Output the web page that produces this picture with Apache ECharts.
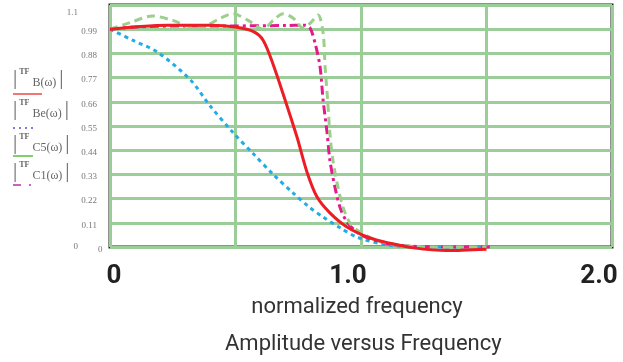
<!DOCTYPE html>
<html>
<head>
<meta charset="utf-8">
<script src="https://cdn.jsdelivr.net/npm/echarts@6/dist/echarts.min.js"></script>
<style>
  html, body { margin: 0; padding: 0; background: #fff; }
  #chart { width: 623px; height: 362px; }
</style>
</head>
<body>
<div id="chart"></div>
<script>
// tick labels
var xTicks = { 0: '0', 1: '1.0', 2: '2.0' }
var yTicks = ['0', '0.11', '0.22', '0.33', '0.44', '0.55', '0.66', '0.77', '0.88', '0.99', '1.1']

// |TF B(w)|  - solid red
var tfB = [[0, 0.99], [0.1, 1.0], [0.23, 1.008], [0.4, 1.008], [0.5, 1.0], [0.57, 0.98],
  [0.61, 0.94], [0.65, 0.83], [0.70, 0.66], [0.745, 0.5], [0.785, 0.34], [0.825, 0.227],
  [0.876, 0.155], [0.944, 0.091], [1.036, 0.041], [1.12, 0.016], [1.21, -0.004],
  [1.34, -0.016], [1.5, -0.01]]

// |TF Be(w)| - blue dots
var tfBe = [[0, 0.99], [0.09, 0.94], [0.19, 0.885], [0.32, 0.76], [0.40, 0.64], [0.49, 0.52],
  [0.57, 0.425], [0.65, 0.33], [0.73, 0.245], [0.79, 0.185], [0.849, 0.136], [0.92, 0.085],
  [0.984, 0.045], [1.1, 0.01], [1.25, 0.0], [1.5, 0.0]]

// |TF C5(w)| - green dashes
var tfC5 = [[0, 0.99], [0.08, 1.02], [0.17, 1.05], [0.25, 1.03], [0.33, 1.0], [0.38, 1.005],
  [0.44, 1.04], [0.49, 1.06], [0.55, 1.03], [0.61, 0.99], [0.65, 1.03], [0.69, 1.06],
  [0.73, 1.04], [0.77, 0.995], [0.80, 1.02], [0.829, 1.055], [0.849, 0.973], [0.857, 0.818],
  [0.867, 0.668], [0.876, 0.518], [0.888, 0.395], [0.908, 0.273], [0.928, 0.182],
  [0.956, 0.109], [0.984, 0.077], [1.08, 0.024], [1.27, 0.0], [1.5, 0.0]]

// |TF C1(w)| - magenta dash-dot
var tfC1 = [[0, 0.99], [0.1, 1.0], [0.3, 1.005], [0.5, 1.005], [0.7, 1.007], [0.777, 1.008],
  [0.797, 0.995], [0.817, 0.927], [0.837, 0.818], [0.849, 0.668], [0.865, 0.518],
  [0.876, 0.395], [0.896, 0.273], [0.916, 0.182], [0.944, 0.114], [0.984, 0.068],
  [1.03, 0.04], [1.14, 0.009], [1.34, 0.0], [1.52, 0.0]]

var legendNames = ['B', 'Be', 'C5', 'C1']

var chart = echarts.init(document.getElementById('chart'))

var serif = 'Liberation Serif'
var sans = 'Roboto, sans-serif'

function legendText(name, top) {
  return {
    type: 'text', left: 13, top: top,
    style: {
      text: '{b||}{t|TF}{s| ' + name + '(\u03c9) }{b||}',
      rich: {
        b: { fontSize: 21, fontFamily: serif, fill: '#666', verticalAlign: 'middle' },
        t: { fontSize: 8, fontFamily: serif, fill: '#666', fontWeight: 'bold', verticalAlign: 'top', padding: [0, 0, 8, 2] },
        s: { fontSize: 12, fontFamily: serif, fill: '#666', verticalAlign: 'bottom', padding: [4, 0, 0, 0] }
      }
    }
  }
}

function legendLine(y, x2, color, dash) {
  return {
    type: 'line',
    shape: { x1: 13, y1: y, x2: x2, y2: y },
    style: { stroke: color, lineWidth: 2, lineDash: dash }
  }
}

chart.setOption({
  animation: false,
  grid: {
    left: 110, right: 11, top: 5, bottom: 115,
    show: true, borderColor: '#222', borderWidth: 3
  },
  title: {
    text: 'Amplitude versus Frequency',
    left: 220, top: 328,
    textStyle: { fontFamily: sans, fontWeight: 'normal', fontSize: 22, color: '#333' }
  },
  xAxis: {
    type: 'value', min: 0, max: 2, interval: 0.5,
    name: 'normalized frequency',
    nameLocation: 'middle', nameGap: 49,
    nameTextStyle: { fontFamily: sans, fontSize: 22, color: '#333', padding: [0, 8, 0, 0] },
    axisLine: { show: false },
    axisTick: { show: false },
    splitLine: { lineStyle: { color: '#9acd98', width: 3 } },
    axisLabel: {
      margin: 16,
      formatter: function (v) {
        if (v === 0) return '{z|' + xTicks[0] + '}'
        if (v === 1) return '{o|' + xTicks[1] + '}'
        if (v === 2) return '{t|' + xTicks[2] + '}'
        return ''
      },
      rich: {
        z: { fontFamily: sans, fontSize: 26, fontWeight: 'bold', color: '#222', padding: [0, 0, 0, 8] },
        o: { fontFamily: sans, fontSize: 26, fontWeight: 'bold', color: '#222', padding: [0, 26, 0, 0] },
        t: { fontFamily: sans, fontSize: 26, fontWeight: 'bold', color: '#222', padding: [0, 26, 0, 0] }
      }
    }
  },
  yAxis: {
    type: 'value', min: 0, max: 1.1, interval: 0.11,
    axisLine: { show: false },
    axisTick: { show: false },
    splitLine: { lineStyle: { color: '#9acd98', width: 3 } },
    axisLabel: {
      margin: 13,
      formatter: function (v) {
        var i = Math.round(v / 0.11)
        if (i === 0) return '{m|' + yTicks[i] + '}'
        if (i === 10) return '{x|' + yTicks[i] + '}'
        return '{n|' + yTicks[i] + '}'
      },
      rich: {
        n: { fontFamily: serif, fontSize: 9, color: '#777', padding: [5, 0, 0, 0] },
        m: { fontFamily: serif, fontSize: 9, color: '#777', padding: [0, 19, 0, 0] },
        x: { fontFamily: serif, fontSize: 9, color: '#777', padding: [16, 19, 0, 0] }
      }
    }
  },
  graphic: [
    legendText('B', 68), legendLine(94, 42, '#f07575', null),
    legendText('Be', 99), legendLine(128, 36, '#7c7ce0', [2, 4]),
    legendText('C5', 133), legendLine(156, 33, '#7fcf6f', null),
    legendText('C1', 161), legendLine(185, 33, '#d060c0', [8, 8, 2, 8]),
    { type: 'text', left: 98, top: 245, style: { text: '0', font: '9px ' + serif, fill: '#777' } }
  ],
  series: [
    {
      name: legendNames[1], type: 'line', data: tfBe, smooth: 0.3, showSymbol: false, clip: false,
      lineStyle: { color: '#22ace6', width: 3, type: [4, 4] }
    },
    {
      name: legendNames[3], type: 'line', data: tfC1, smooth: 0.3, showSymbol: false, clip: false,
      lineStyle: { color: '#e6188c', width: 3, type: [9, 4, 3, 4] }
    },
    {
      name: legendNames[2], type: 'line', data: tfC5, smooth: 0.3, showSymbol: false, clip: false,
      lineStyle: { color: '#9ccf8c', width: 3, type: [8, 5] }
    },
    {
      name: legendNames[0], type: 'line', data: tfB, smooth: 0.3, showSymbol: false, clip: false,
      lineStyle: { color: '#ee1c25', width: 3 }
    }
  ]
})
</script>
</body>
</html>
